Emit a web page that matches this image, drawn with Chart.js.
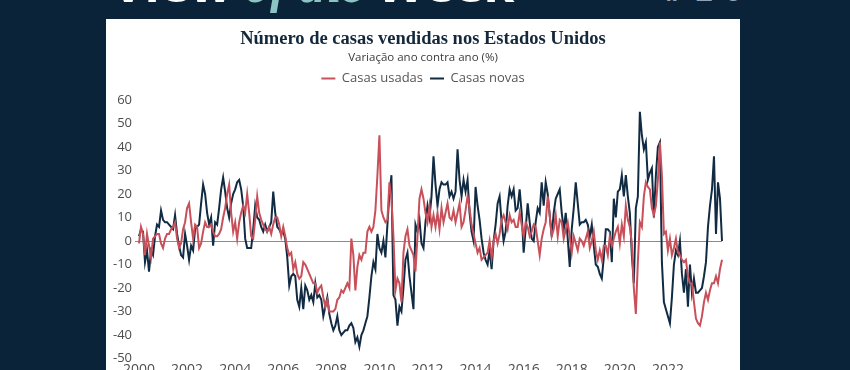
<!DOCTYPE html>
<html lang="pt">
<head>
<meta charset="utf-8">
<title>Número de casas vendidas nos Estados Unidos</title>
<script src="https://cdn.jsdelivr.net/npm/chart.js@4.4.1/dist/chart.umd.min.js"></script>
<style>
  html, body { margin: 0; padding: 0; }
  body { width: 850px; height: 370px; background: #0b2338; overflow: hidden; position: relative; }
  .header { position: absolute; left: 112px; top: -42px; font: 700 50px "Open Sans", sans-serif; line-height: 50px; color: #fff; white-space: nowrap; }
  .header em { font-family: "Liberation Serif", serif; font-style: italic; font-weight: 700; color: #8cc4c4; }
  .issue { position: absolute; left: 664px; top: -25px; font: 700 30px "Open Sans", sans-serif; line-height: 30px; color: #8fa3b5; letter-spacing: 12px; }
  .card { position: absolute; left: 106px; top: 19px; width: 634px; height: 365px; background: #fff; }
</style>
</head>
<body>
<div class="header">View <em>of the</em> Week</div>
<div class="issue">#26</div>
<div class="card"><canvas id="housesChart"></canvas></div>

<script>
// tick labels shown on the x axis
const yearLabels = ['2000', '2002', '2004', '2006', '2008', '2010', '2012', '2014', '2016', '2018', '2020', '2022'];

// year-on-year change (%), monthly from Jan 2000
const casasUsadas = [
  -1, 6, 3, -6, 3, -2, -7, 1, 2, 3, 3, -1, -3, 1, 3, 3, 5, 6, 8, 1, -3, -1, 5, 8, 14,
  16, 8, 1, 7, 6, -3, -1, 4, 8, 6, 6, 7, 4, 2, 2, 3, 5, 10,
  14, 20, 24, 12, 4, 8, 1, 8, 12, 15, 12, 20, 12, 2, 1, 9, 19, 12, 9, 7, 5, 4, 6, 3, 7,
  10, 10, 7, 2, 6, 2, -3, -6, -5, -12, -9, -14, -16, -15, -9, -10, -12, -14, -16, -18,
  -18, -22, -20, -19, -24, -28, -25, -30,
  -30, -30, -29, -25, -24, -21, -22, -20, -18, -20, 1, -6, -21, -11, -6, -8, -5, -5, 4, 6,
  4, 6, 13, 28, 45, 13, 10, 8, 9, 25, 18, 2, -21, -16, -18, -26, -5, 2, 5, -2, -4, -6, -13, 2, 18,
  22, 18, 12, 8, 15, 6, 11, 6, 12, 5, 14, 8, 12, 16, 10, 9, 13, 8, 12, 16, 6, 8, 13, 19, 14,
  7, 3, -1, -5, -3, -8, -7, -6, -5, 0, -7, 0, 3, -1, 3, 9, 11, 8, 5, 11, 8, 9, 6,
  6, 12, 7, 2, 8, 6, 2, 4, 7, 6, 0, -6, 1, 5, 8, 19, 11, 2, 5, 11, 2, 9, 8, 1, 5,
  8, 2, -5, 2, -1, -4, 1, 0, -2, 1, 4, -3, 0, 4, -4, -8, -4, -8, -2,
  -2, -6, 2, -2, 1, 4, 6, -1, 7, 2, 15, 9, 6, -1, -20, -31, -9, 8, 6, 19, 25, 23, 22, 14, 11,
  15, 26, 42, 28, 3, 4, -4, 1, -6, -3, 1, -5, -6, -8, -9, -8, -15, -18, -18, -26, -33, -35,
  -36, -32, -26, -22, -25, -21, -18, -18, -15, -18, -12, -8
];

const casasNovas = [
  2, 5, 4, -9, -4, -13, -4, -6, 2, 7, 6, 13, 9, 8, 8, 7, 6, 5, 11, 3, -2, -6, -7, 3, -2,
  -8, -2, -4, 5, 6, 7, 16, 24, 20, 12, 7, 10, -2, 8, 7, 14, 22, 27,
  21, 14, 10, 16, 20, 22, 25, 26, 22, 15, 1, -3, -3, -3, 5, 15, 10, 9, 6, 4, 7, 4, 6, 8, 21,
  12, 6, 5, 3, 4, 1, -7, -19, -15, -14, -15, -25, -28, -20, -29, -19, -21, -25, -23, -26,
  -18, -24, -23, -25, -32, -28, -24, -31,
  -35, -38, -36, -32, -38, -40, -39, -38, -38, -36, -35, -37, -43, -41, -45, -40, -38, -35, -32, -24,
  -15, -9, -12, 3, -3, -5, 0, -7, 7, 20, 28, -23, -25, -36, -28, -30, -20, -8, -5, -15, -22, -29, 7, 4, 9,
  -1, -3, 8, 15, 10, 19, 36, 24, 15, 22, 25, 24, 24, 25, 19, 21, 18, 21, 39, 26, 19, 26, 21, 26, 12,
  4, 0, 23, 15, 9, 1, -5, -8, -10, -4, -12, 0, 7, 16, 19, 8, 0, 4, 15, 22, 19, 22, 13,
  14, 22, 12, -5, 5, 16, 8, 1, 0, 8, 14, 12, 25, 15, 25, 20, 11, 2, 12, 18, 20, 22, 12, 5, 12,
  1, -11, 5, 14, 25, 16, 7, 8, 8, 9, 7, 2, 7, -2, -10, -11, -14, -16, -7,
  5, 5, 4, -9, 18, 10, 21, 22, 28, 19, 28, 19, 12, -6, -18, 14, 19, 55, 45, 39, 42, 26, 29, 31, 10,
  28, 40, 42, -9, -26, -29, -32, -35, -24, -10, -4, -6, 0, -14, -22, -12, -28, -10,
  -22, -16, -22, -22, -21, -20, -15, -9, 6, 15, 22, 36, 3, 25, 18, 0
];

// one category per month
const months = [];
for (let y = 2000; y <= 2024; y++) {
  for (let m = 1; m <= 12; m++) {
    months.push(y + '-' + String(m).padStart(2, '0'));
  }
}
const labels = months.slice(0, casasUsadas.length);

const tickFont = { family: '"Open Sans", sans-serif', size: 13 };

// push the plot a little further below the legend
const legendGap = {
  id: 'legendGap',
  beforeInit(chart) {
    const fit = chart.legend.fit;
    chart.legend.fit = function () {
      fit.call(this);
      this.height += 5;
    };
  }
};

new Chart(document.getElementById('housesChart'), {
  type: 'line',
  data: {
    labels,
    datasets: [
      {
        label: 'Casas usadas',
        data: casasUsadas,
        borderColor: '#c8505a',
        backgroundColor: '#c8505a',
        borderWidth: 2,
        pointRadius: 0,
        tension: 0
      },
      {
        label: 'Casas novas',
        data: casasNovas,
        borderColor: '#112b43',
        backgroundColor: '#112b43',
        borderWidth: 2,
        pointRadius: 0,
        tension: 0
      }
    ]
  },
  options: {
    responsive: true,
    maintainAspectRatio: false,
    animation: false,
    layout: { padding: 0 },
    plugins: {
      title: {
        display: true,
        text: 'Número de casas vendidas nos Estados Unidos',
        color: '#14283c',
        font: { family: '"Liberation Serif", serif', size: 18.5, weight: 'bold' },
        padding: { top: 9, bottom: 1 }
      },
      subtitle: {
        display: true,
        text: 'Variação ano contra ano (%)',
        color: '#3a3a3a',
        font: { family: '"Open Sans", sans-serif', size: 11.5 },
        padding: { top: 0, bottom: 0 }
      },
      legend: {
        display: true,
        labels: {
          color: '#555',
          font: { family: '"Open Sans", sans-serif', size: 13 },
          usePointStyle: true,
          pointStyle: 'line',
          pointStyleWidth: 14,
          padding: 7
        }
      },
      tooltip: { enabled: false }
    },
    scales: {
      x: {
        grid: { display: false, drawTicks: false },
        border: { display: false },
        afterFit(scale) { scale.height = 25.5; },
        ticks: {
          autoSkip: false,
          maxRotation: 0,
          padding: 3,
          color: '#4d4d4d',
          font: { family: '"Open Sans", sans-serif', size: 14 },
          callback: function (value) {
            const parts = this.getLabelForValue(value).split('-');
            return (parts[1] === '01' && yearLabels.includes(parts[0])) ? parts[0] : null;
          }
        }
      },
      y: {
        min: -50,
        max: 60,
        afterFit(scale) { scale.width = 33; },
        border: { display: false },
        grid: {
          drawTicks: true,
          tickLength: 4,
          color: (ctx) => (ctx.tick && ctx.tick.value === 0 ? '#8a8a8a' : 'rgba(0,0,0,0)')
        },
        ticks: {
          stepSize: 10,
          padding: 3,
          color: '#4d4d4d',
          font: tickFont
        }
      },
      // empty axis on the right, keeps the plot clear of the card edge
      yRight: {
        type: 'linear',
        position: 'right',
        afterFit(scale) { scale.width = 18; },
        border: { display: false },
        grid: { display: false, drawTicks: false },
        ticks: { display: false }
      }
    }
  },
  plugins: [legendGap]
});
</script>
</body>
</html>
